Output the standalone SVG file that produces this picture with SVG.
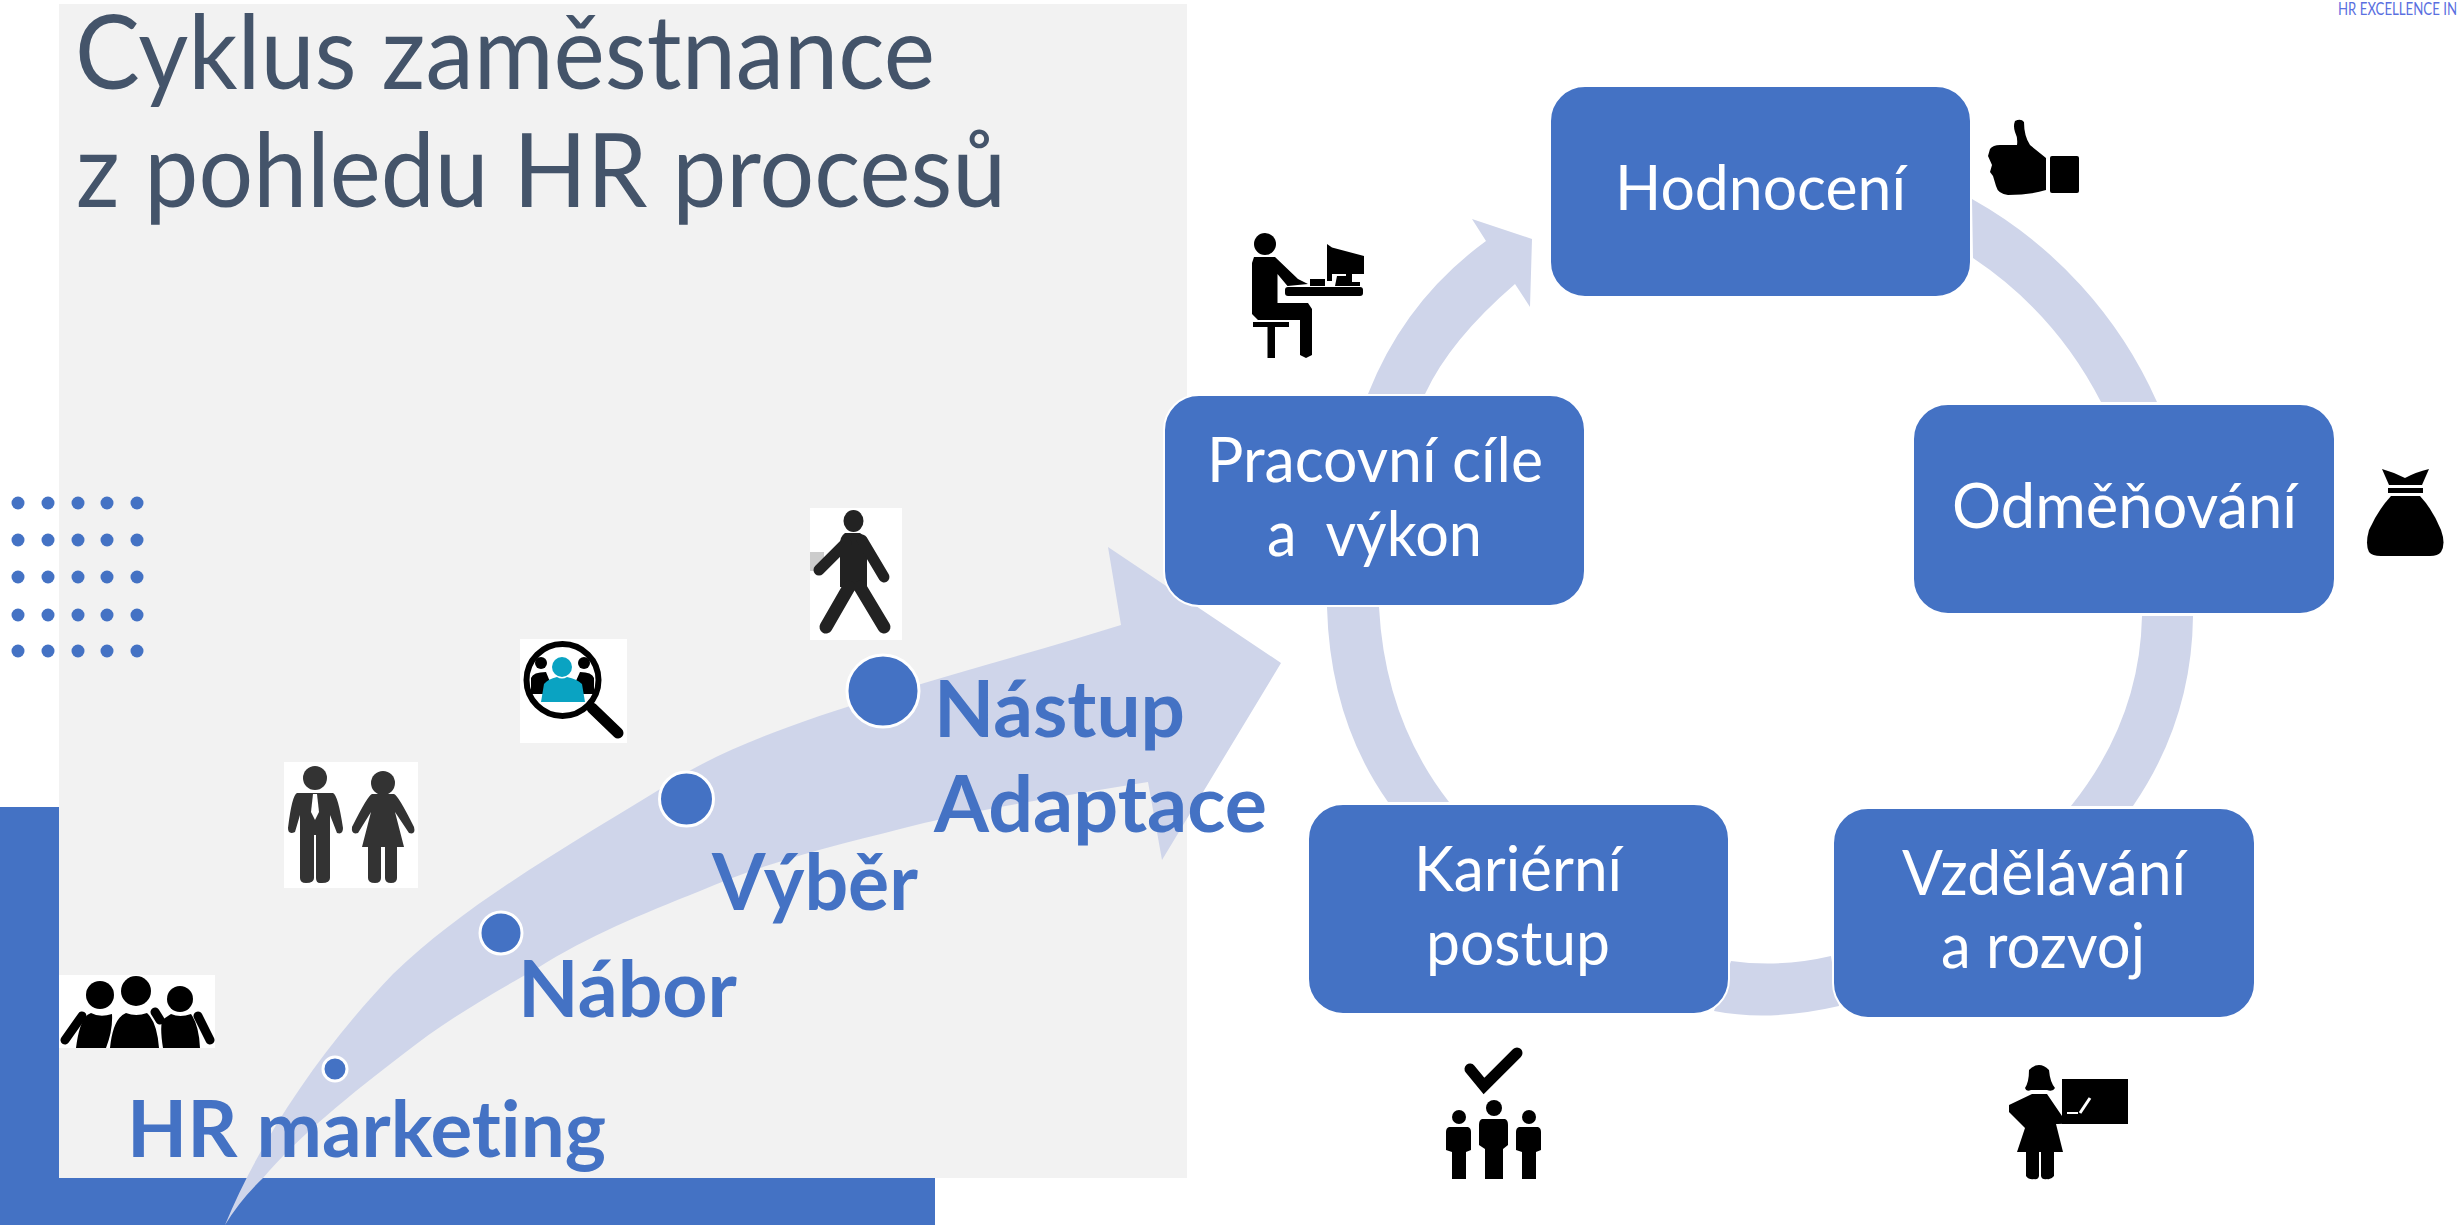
<svg xmlns="http://www.w3.org/2000/svg" width="2458" height="1225" viewBox="0 0 2458 1225">
<style>
text{font-variant-ligatures:none}
.box{fill:#4472c4;stroke:#fff;stroke-width:2}
.flow{fill:#cfd5ea}
.t{font-family:Lato,"Open Sans","Liberation Sans",sans-serif;fill:#fff;font-size:62px}
.l{font-family:Lato,"Open Sans","Liberation Sans",sans-serif;fill:#4472c4;font-size:78px;font-weight:700}
.title{font-family:Lato,"Open Sans","Liberation Sans",sans-serif;fill:#44546a;font-size:102px}
.pt{fill:#4472c4;stroke:#fff;stroke-width:3}
.d{fill:#4472c4}
.wh{fill:#fff}
</style>
<rect width="2458" height="1225" fill="#fff"/>
<rect x="0" y="807" width="60" height="418" class="d"/>
<rect x="0" y="1178" width="935" height="47" class="d"/>
<rect x="59" y="4" width="1128" height="1174" fill="#f2f2f2"/>
<g id="dots" class="d">
<circle cx="18" cy="503" r="6.5"/><circle cx="48" cy="503" r="6.5"/><circle cx="78" cy="503" r="6.5"/><circle cx="107" cy="503" r="6.5"/><circle cx="137" cy="503" r="6.5"/>
<circle cx="18" cy="540" r="6.5"/><circle cx="48" cy="540" r="6.5"/><circle cx="78" cy="540" r="6.5"/><circle cx="107" cy="540" r="6.5"/><circle cx="137" cy="540" r="6.5"/>
<circle cx="18" cy="577" r="6.5"/><circle cx="48" cy="577" r="6.5"/><circle cx="78" cy="577" r="6.5"/><circle cx="107" cy="577" r="6.5"/><circle cx="137" cy="577" r="6.5"/>
<circle cx="18" cy="615" r="6.5"/><circle cx="48" cy="615" r="6.5"/><circle cx="78" cy="615" r="6.5"/><circle cx="107" cy="615" r="6.5"/><circle cx="137" cy="615" r="6.5"/>
<circle cx="18" cy="651" r="6.5"/><circle cx="48" cy="651" r="6.5"/><circle cx="78" cy="651" r="6.5"/><circle cx="107" cy="651" r="6.5"/><circle cx="137" cy="651" r="6.5"/>
</g>
<g id="title">
<text class="title" x="75" y="89" textLength="860" lengthAdjust="spacingAndGlyphs">Cyklus zaměstnance</text>
<text class="title" x="76" y="207" textLength="930" lengthAdjust="spacingAndGlyphs">z pohledu HR procesů</text>
</g>
<text x="2338" y="15" font-family="Lato,'Liberation Sans',sans-serif" font-weight="400" font-size="17" fill="#5a6fe0" textLength="119" lengthAdjust="spacingAndGlyphs">HR EXCELLENCE IN</text>
<g id="connectors">
<path class="flow" d="M225 1225C260 1140 320 1050 393 974C470 900 570 845 691 770C790 715 960 675 1121 625L1108 547L1281 663L1162 860L1148 782C1070 795 1000 805 924 823C850 842 770 860 700 891C640 915 590 935 536 969C480 1000 440 1025 402 1055C350 1095 300 1135 263 1178Q240 1200 225 1225Z"/>
<path class="flow" d="M1972 199A434 434 0 0 1 2157 402L2101 402A382 382 0 0 0 1973 258Z"/>
<path class="flow" d="M2193 616Q2192 720 2133 806L2071 806Q2140 720 2142 616Z"/>
<path class="flow" d="M1839 1006Q1770 1022 1714 1011L1731 961Q1780 968 1831 956Z"/>
<path class="flow" d="M1388 802Q1330 720 1327 607L1379 607Q1385 720 1449 802Z"/>
<path class="flow" d="M1368 394Q1405 300 1486 241L1472 219L1532 239L1530 307L1515 284Q1450 340 1425 394Z"/>
</g>
<g id="n-hodnoceni"><rect class="box" x="1550" y="86" width="421" height="211" rx="35"/><text class="t" x="1615" y="210" textLength="291" lengthAdjust="spacingAndGlyphs">Hodnocení</text></g>
<g id="n-odmenovani"><rect class="box" x="1913" y="404" width="422" height="210" rx="35"/><text class="t" x="1952" y="528" textLength="345" lengthAdjust="spacingAndGlyphs">Odměňování</text></g>
<g id="n-vzdelavani"><rect class="box" x="1833" y="808" width="422" height="210" rx="35"/><text class="t" x="1902" y="895" textLength="284" lengthAdjust="spacingAndGlyphs">Vzdělávání</text><text class="t" x="1941" y="968" textLength="204" lengthAdjust="spacingAndGlyphs">a rozvoj</text></g>
<g id="n-karierni"><rect class="box" x="1308" y="804" width="421" height="210" rx="35"/><text class="t" x="1414" y="891" textLength="208" lengthAdjust="spacingAndGlyphs">Kariérní</text><text class="t" x="1426" y="965" textLength="184" lengthAdjust="spacingAndGlyphs">postup</text></g>
<g id="n-pracovni"><rect class="box" x="1164" y="395" width="421" height="211" rx="35"/><text class="t" x="1207" y="482" textLength="336" lengthAdjust="spacingAndGlyphs">Pracovní cíle</text><text class="t" x="1267" y="556" textLength="215" lengthAdjust="spacingAndGlyphs" xml:space="preserve">a  výkon</text></g>
<g id="p-marketing"><circle class="pt" cx="335" cy="1069" r="12"/><text class="l" x="127" y="1157" textLength="479" lengthAdjust="spacingAndGlyphs">HR marketing</text></g>
<g id="p-nabor"><circle class="pt" cx="501" cy="933" r="21"/><text class="l" x="518" y="1017" textLength="219" lengthAdjust="spacingAndGlyphs">Nábor</text></g>
<g id="p-vyber"><circle class="pt" cx="686.5" cy="799" r="27"/><text class="l" x="712" y="910" textLength="206" lengthAdjust="spacingAndGlyphs">Výběr</text></g>
<g id="p-nastup"><circle class="pt" cx="883" cy="691" r="36"/><text class="l" x="934" y="737" textLength="251" lengthAdjust="spacingAndGlyphs">Nástup</text><text class="l" x="934" y="832" textLength="333" lengthAdjust="spacingAndGlyphs">Adaptace</text></g>
<g id="i-group">
<rect class="wh" x="59" y="975" width="156" height="73"/>
<circle cx="100" cy="995" r="14"/><circle cx="136" cy="991" r="15"/><circle cx="180" cy="999" r="13"/>
<path d="M76 1048Q80 1016 91 1013Q100 1018 112 1014Q113 1030 106 1048Z"/>
<path d="M110 1048Q113 1018 126 1013Q136 1017 147 1013Q157 1022 159 1048Z"/>
<path d="M163 1048Q160 1030 162 1020L171 1014Q180 1018 191 1014Q199 1025 200 1048Z"/>
<path d="M65 1040L82 1016" stroke="#000" stroke-width="9" stroke-linecap="round" fill="none"/>
<path d="M198 1016L210 1040" stroke="#000" stroke-width="9" stroke-linecap="round" fill="none"/>
<path d="M155 1012L160 1020" stroke="#000" stroke-width="9" stroke-linecap="round" fill="none"/>
</g>
<g id="i-couple" fill="#333">
<rect class="wh" x="284" y="762" width="134" height="126"/>
<circle cx="315" cy="778" r="12"/><circle cx="383" cy="783" r="12"/>
<path d="M297 793H333Q338 795 343 828Q343 835 337 833L330 815V878Q330 883 322 883H320Q316 883 316 878V835H314V878Q314 883 306 883Q300 883 300 878V815L295 832Q288 835 288 828Q292 795 297 793Z"/>
<path d="M313 794H317L319 812L315 820L311 812Z" fill="#fff"/>
<path d="M372 794H394Q398 795 414 827Q416 835 409 833L395 812L404 847H397V878Q397 883 391 883Q385 883 385 878V847H381V878Q381 883 375 883Q368 883 368 878V847H362L371 812L358 833Q351 835 352 827Q368 795 372 794Z"/>
</g>
<g id="i-search">
<rect class="wh" x="520" y="639" width="107" height="104"/>
<circle cx="562.5" cy="680" r="36" fill="#fff" stroke="#000" stroke-width="6"/>
<path d="M592 708L618 733" stroke="#000" stroke-width="11" stroke-linecap="round"/>
<circle cx="541" cy="663" r="6"/><circle cx="584" cy="663" r="6"/>
<path d="M531 694V678Q533 672 546 672L555 694ZM594 694V678Q592 672 580 672L570 694Z"/>
<circle cx="562" cy="667" r="10" fill="#0aa3c2"/>
<path d="M541 702L544 684Q548 679 557 677Q562 680 567 677Q577 679 582 684L585 702Z" fill="#0aa3c2"/>
</g>
<g id="i-walker">
<rect class="wh" x="810" y="508" width="92" height="132"/>
<rect x="810" y="552" width="14" height="19" fill="#ccc"/>
<ellipse cx="853.5" cy="521" rx="10" ry="11" fill="#222"/>
<path d="M845 533H860Q866 536 867 545V587H840V545Q840 536 845 533Z" fill="#222"/>
<path d="M846 543L819 570M862 540L884 577" stroke="#222" stroke-width="11" stroke-linecap="round" fill="none"/>
<path d="M849 587L826 627M860 587L884 627" stroke="#222" stroke-width="13" stroke-linecap="round" fill="none"/>
</g>
<g id="i-thumb">
<rect x="2050" y="156" width="29" height="37" rx="2"/>
<path d="M2015 121Q2021 118 2024 122Q2024 136 2030 145L2046 158V190Q2030 195 2008 195Q1998 194 1996 186L1993 176L1990 172L1992 165L1988 156L1990 149Q1993 145 2000 145H2017Q2018 138 2015 132Q2013 126 2015 121Z"/>
</g>
<g id="i-bag">
<path d="M2382 469Q2393 472 2405 478Q2416 472 2429 469L2422 485H2389Z"/>
<rect x="2388" y="488" width="35" height="5"/>
<path d="M2391 496H2420Q2433 510 2441 530Q2446 544 2441 552Q2438 556 2430 556H2381Q2372 556 2369 552Q2365 544 2369 530Q2378 510 2391 496Z"/>
</g>
<g id="i-desk">
<ellipse cx="1265" cy="244" rx="11" ry="11"/>
<path d="M1254 257H1275L1298 279L1308 284L1287.5 286L1277.5 274V303H1308L1312 309V355L1306 358L1300 355V320H1258L1252 314V263Z"/>
<rect x="1253" y="322" width="36" height="5"/><rect x="1267.5" y="325" width="7.5" height="33"/>
<rect x="1285" y="287" width="78" height="9" rx="3"/><rect x="1310" y="279" width="15" height="7"/>
<path d="M1327 244L1332 247.5L1364 256V274H1332V281H1327Z"/><path d="M1337 276H1346V272H1352V282H1360V286H1335Z"/>
</g>
<g id="i-team">
<path d="M1470 1069L1484 1086L1517 1053" fill="none" stroke="#000" stroke-width="11" stroke-linecap="round"/>
<ellipse cx="1494" cy="1108" rx="8" ry="8"/>
<path d="M1482 1119H1505Q1508 1120 1508 1125V1145L1503 1149V1179H1485V1149L1479 1145V1125Q1479 1120 1482 1119Z"/>
<ellipse cx="1459" cy="1117" rx="7" ry="7"/>
<path d="M1449 1127H1468Q1471 1128 1471 1132V1150L1466 1152V1179H1452V1152L1446 1150V1132Q1446 1128 1449 1127Z"/>
<ellipse cx="1529" cy="1117" rx="7" ry="7"/>
<path d="M1519 1127H1538Q1541 1128 1541 1132V1150L1536 1152V1179H1522V1152L1516 1150V1132Q1516 1128 1519 1127Z"/>
</g>
<g id="i-teacher">
<rect x="2062" y="1079" width="66" height="45"/>
<path d="M2029 1070Q2039 1060 2049 1070Q2050 1082 2055 1088Q2053 1092 2047 1090L2031 1090Q2026 1092 2025 1088Q2029 1082 2029 1070Z"/>
<path d="M2032 1094H2047L2062 1116L2078 1115L2080 1123L2058 1124L2056 1124L2063 1152H2054V1176Q2051 1180 2047 1179Q2042 1180 2041 1176V1152H2039V1176Q2038 1180 2034 1179Q2029 1180 2026 1176V1152H2017L2025 1128L2009 1112V1105Z"/>
<path d="M2014 1108L2028 1104L2026 1118Z" fill="#fff" opacity="0"/>
<path d="M2090 1098L2080 1113" stroke="#fff" stroke-width="3"/>
<path d="M2067 1113H2078" stroke="#fff" stroke-width="2"/>
</g>
</svg>
